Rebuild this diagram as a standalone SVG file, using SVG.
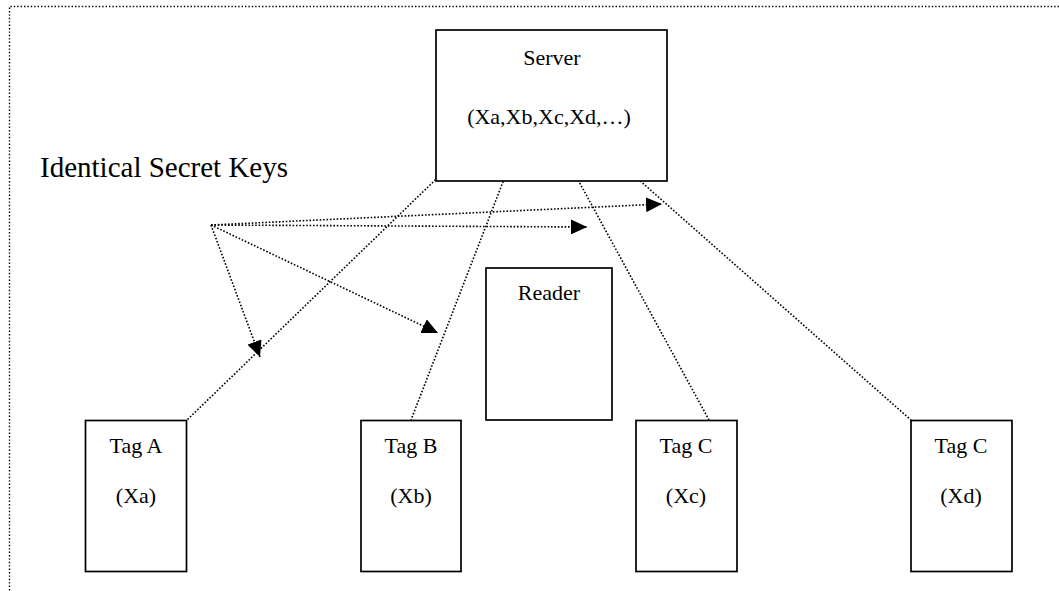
<svg xmlns="http://www.w3.org/2000/svg" width="1059" height="591" viewBox="0 0 1059 591">
  <style>
    .box { fill: #fff; stroke: #000; stroke-width: 1.7; }
    .lbl { font-family: "Liberation Serif", "Times New Roman", serif; font-size: 22px; fill: #000; text-anchor: middle; }
    .title { font-family: "Liberation Serif", "Times New Roman", serif; font-size: 29px; fill: #000; }
    .dot { fill: none; stroke: #000; stroke-width: 1.6; stroke-dasharray: 1.6 1.8; }
    .frame { fill: none; stroke: #000; stroke-width: 1.4; stroke-dasharray: 1.4 2; }
  </style>
  <defs>
    <marker id="tri" viewBox="0 0 16 15" refX="16" refY="7.5" markerWidth="16" markerHeight="15" markerUnits="userSpaceOnUse" orient="auto">
      <path d="M0,0 L16,7.5 L0,15 Z" fill="#000"/>
    </marker>
  </defs>
  <rect width="1059" height="591" fill="#fff"/>

  <!-- dotted frame: top and left edges -->
  <path class="frame" d="M1059,6.5 H9.5 V591"/>

  <text class="title" x="40" y="177">Identical Secret Keys</text>

  <g id="connectors">
    <!-- server to tags -->
    <line class="dot" x1="460" y1="156" x2="187" y2="420"/>
    <line class="dot" x1="513" y1="156" x2="411" y2="420"/>
    <line class="dot" x1="565" y1="156" x2="709" y2="420"/>
    <line class="dot" x1="612" y1="156" x2="911" y2="420"/>
    <!-- key distribution arrows -->
    <line class="dot" x1="211" y1="225" x2="662" y2="204" marker-end="url(#tri)"/>
    <line class="dot" x1="211" y1="225" x2="587" y2="227" marker-end="url(#tri)"/>
    <line class="dot" x1="211" y1="225" x2="438" y2="333" marker-end="url(#tri)"/>
    <line class="dot" x1="211" y1="225" x2="260" y2="357" marker-end="url(#tri)"/>
  </g>

  <g id="server">
    <rect class="box" x="436" y="30" width="231" height="151"/>
    <text class="lbl" x="552" y="65">Server</text>
    <text class="lbl" x="549" y="124">(Xa,Xb,Xc,Xd,…)</text>
  </g>

  <g id="reader">
    <rect class="box" x="486" y="268" width="126" height="152"/>
    <text class="lbl" x="549" y="300">Reader</text>
  </g>

  <g id="tag-a">
    <rect class="box" x="85.5" y="420.5" width="101" height="151"/>
    <text class="lbl" x="136" y="453">Tag A</text>
    <text class="lbl" x="136" y="503">(Xa)</text>
  </g>

  <g id="tag-b">
    <rect class="box" x="361" y="420.5" width="100" height="151"/>
    <text class="lbl" x="411" y="453">Tag B</text>
    <text class="lbl" x="411" y="503">(Xb)</text>
  </g>

  <g id="tag-c">
    <rect class="box" x="636" y="420.5" width="101" height="151"/>
    <text class="lbl" x="686" y="453">Tag C</text>
    <text class="lbl" x="686" y="503">(Xc)</text>
  </g>

  <g id="tag-d">
    <rect class="box" x="911" y="420.5" width="101" height="151"/>
    <text class="lbl" x="961" y="453">Tag C</text>
    <text class="lbl" x="961" y="503">(Xd)</text>
  </g>
</svg>
